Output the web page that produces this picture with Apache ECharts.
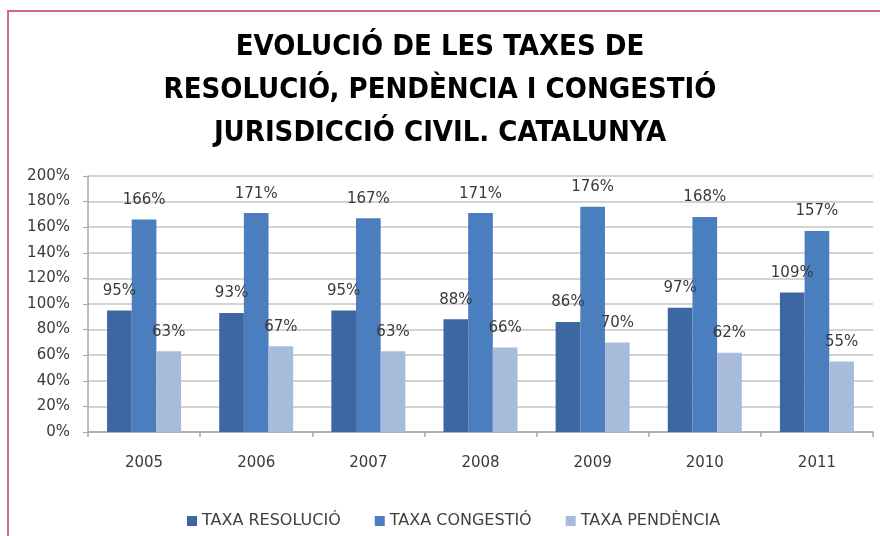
<!DOCTYPE html>
<html>
<head>
<meta charset="utf-8">
<script src="https://cdn.jsdelivr.net/npm/echarts@6/dist/echarts.min.js"></script>
<style>
  html, body { margin: 0; padding: 0; background: #ffffff; }
  #frame {
    position: absolute; left: 7px; top: 10px; width: 873px; height: 526px;
    border-left: 2px solid #d4668f; border-top: 2px solid #d4668f;
  }
  #chart { position: absolute; left: 0; top: 0; width: 880px; height: 536px; }
</style>
</head>
<body>
<div id="frame"></div>
<div id="chart"></div>
<script>
// Years on the category axis
const years = ['2005', '2006', '2007', '2008', '2009', '2010', '2011'];
// Rates in percent
const taxaResolucio = [95, 93, 95, 88, 86, 97, 109];
const taxaCongestio = [166, 171, 167, 171, 176, 168, 157];
const taxaPendencia = [63, 67, 63, 66, 70, 62, 55];
const seriesNames = ['TAXA RESOLUCIÓ', 'TAXA CONGESTIÓ', 'TAXA PENDÈNCIA'];
const seriesColors = ['#3d67a0', '#4a7ebf', '#a9bbdb'];
const titleText = 'EVOLUCIÓ DE LES TAXES DE\nRESOLUCIÓ, PENDÈNCIA I CONGESTIÓ\nJURISDICCIÓ CIVIL. CATALUNYA';

const labelFont = "'DejaVu Sans', sans-serif";

function barSeries(name, data, color) {
  return {
    name: name,
    type: 'bar',
    data: data,
    barGap: '0%',
    barCategoryGap: '34%',
    itemStyle: { color: color },
    label: {
      show: true,
      position: 'top',
      distance: 12,
      formatter: '{c}%',
      fontFamily: labelFont,
      fontSize: 15,
      color: '#3a3a3a'
    }
  };
}

const chart = echarts.init(document.getElementById('chart'), null, { renderer: 'canvas' });
chart.setOption({
  animation: false,
  color: seriesColors,
  title: {
    text: titleText,
    left: 'center',
    top: 21,
    textStyle: {
      fontFamily: "'DejaVu Sans Condensed', sans-serif",
      fontWeight: 'bold',
      fontSize: 29,
      lineHeight: 43,
      color: '#000000'
    }
  },
  grid: { left: 88, right: 7, top: 176, bottom: 104 },
  legend: {
    data: seriesNames,
    left: 182,
    top: 508,
    itemWidth: 10,
    itemHeight: 10,
    itemGap: 34,
    icon: 'rect',
    textStyle: { fontFamily: labelFont, fontSize: 16, color: '#404040' }
  },
  xAxis: {
    type: 'category',
    data: years,
    axisLine: { lineStyle: { color: '#a6a6a6', width: 1.5 } },
    axisTick: { show: true, length: 5, lineStyle: { color: '#a6a6a6', width: 1.5 } },
    axisLabel: { margin: 24, fontFamily: labelFont, fontSize: 15, color: '#3a3a3a' }
  },
  yAxis: {
    type: 'value',
    min: 0,
    max: 200,
    interval: 20,
    axisLine: { show: true, lineStyle: { color: '#a6a6a6', width: 1.5 } },
    axisTick: { show: true, length: 5, lineStyle: { color: '#a6a6a6' } },
    axisLabel: { formatter: '{value}%', margin: 18, fontFamily: labelFont, fontSize: 15, color: '#3a3a3a' },
    splitLine: { lineStyle: { color: '#c4c4c4', width: 1.5 } }
  },
  series: [
    barSeries(seriesNames[0], taxaResolucio, seriesColors[0]),
    barSeries(seriesNames[1], taxaCongestio, seriesColors[1]),
    barSeries(seriesNames[2], taxaPendencia, seriesColors[2])
  ]
});
</script>
</body>
</html>
